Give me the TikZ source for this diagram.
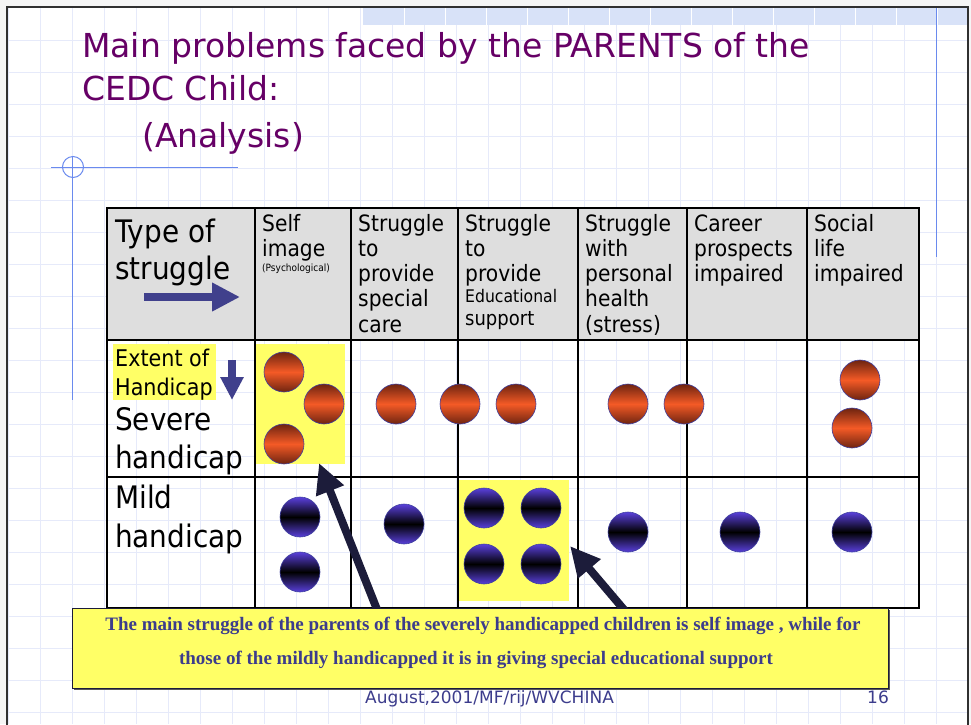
\documentclass[tikz,border=0pt]{standalone}
\usepackage{fontspec}
\setmainfont{DejaVu Sans}[FakeStretch=0.9]
\newfontfamily\widefont{DejaVu Sans}
\newfontfamily\notefont{Liberation Serif}
\usetikzlibrary{arrows.meta}
\definecolor{titlec}{HTML}{660066}
\definecolor{gridc}{HTML}{E6EAFA}
\definecolor{bannerc}{HTML}{D8E2F8}
\definecolor{decob}{HTML}{6A8AEE}
\definecolor{headc}{HTML}{DEDEDE}
\definecolor{hlc}{HTML}{FFFF66}
\definecolor{arrowb}{HTML}{40408C}
\definecolor{navy}{HTML}{1C1C3A}
\definecolor{notetext}{HTML}{3C3C8C}
\definecolor{orgdark}{HTML}{6E2410}
\definecolor{orgmid}{HTML}{F45A26}
\definecolor{bluetop}{HTML}{5A40DC}
\definecolor{ballline}{HTML}{4040A0}
\definecolor{pagec}{HTML}{F5F5F5}
\definecolor{framec}{HTML}{303030}
\begin{document}
\begin{tikzpicture}[x=1pt,y=-1pt,
  txt/.style={inner sep=0pt, anchor=base west},
  titlef/.style={txt, text=titlec, font=\widefont\fontsize{33}{36}\selectfont},
  hdr/.style={txt, font=\fontsize{22.5}{25}\selectfont},
  bigt/.style={txt, font=\fontsize{31}{36}\selectfont},
  tbl/.style={line width=1.4pt, black},
  oball/.style={circle, minimum size=40pt, inner sep=0pt, draw=ballline, line width=0.6pt,
     top color=orgdark, bottom color=orgdark, middle color=orgmid},
  bball/.style={circle, minimum size=40pt, inner sep=0pt, draw=ballline, line width=0.6pt,
     top color=bluetop, bottom color=bluetop, middle color=black},
  blockarrow/.style={arrowb, line width=8pt, -{Triangle[length=28pt,width=27pt]}},
  downarrow/.style={arrowb, line width=8pt, -{Triangle[length=23pt,width=22pt]}},
  pointer/.style={navy, line width=8pt, -{Triangle[length=30pt,width=28pt]}},
  notel/.style={inner sep=0pt, anchor=base, text=notetext, font=\notefont\bfseries\fontsize{19}{22}\selectfont},
  foot/.style={txt, text=notetext, font=\widefont\fontsize{17}{20}\selectfont}
]
\useasboundingbox (0,0) rectangle (971,724);
\clip (0,0) rectangle (971,724);
% page
\fill[pagec] (0,0) rectangle (971,724);
\fill[white] (7,7) rectangle (968,730);
% grid
\foreach \k in {0,...,29} \draw[gridc, line width=0.7pt] ({8.5+32*\k},7) -- ({8.5+32*\k},724);
\foreach \k in {1,...,22} \draw[gridc, line width=0.7pt] (7,{8+32*\k}) -- (968,{8+32*\k});
% banner
\fill[bannerc] (363,8) rectangle (967,25);
\foreach \k in {0,...,13} \draw[white, line width=1pt] ({404+41*\k},8) -- ({404+41*\k},25);
% frame
\draw[framec, line width=2pt] (7,740) -- (7,7) -- (968,7) -- (968,740);
% decorative lines
\draw[decob, line width=1pt] (936,8) -- (936,257);
\draw[decob, line width=1pt] (72.7,157) -- (72.7,400);
\draw[decob, line width=1pt] (51,167) -- (238,167);
\draw[decob, line width=1pt] (73,167) circle[radius=10.5];
% title
\node[titlef] (t1) at (82,57) {Main problems faced by the PARENTS of the};
\node[titlef] (t2) at (82,100) {CEDC Child:};
\node[titlef] (t3) at (142,147) {(Analysis)};
% table header background
\fill[headc] (107,208) rectangle (919,340);
% highlights
\fill[hlc] (256,344) rectangle (345,464);
\fill[hlc] (458,480) rectangle (569,601);
\fill[hlc] (113,344) rectangle (216,400);
% table lines
\draw[tbl] (107,208) rectangle (919,608);
\foreach \x in {255,351,458,578,687,807} \draw[tbl] (\x,208) -- (\x,608);
\draw[tbl] (107,340) -- (919,340);
\draw[tbl] (107,477) -- (919,477);
% header texts
\node[bigt] (ty1) at (115,242) {Type of};
\node[bigt] (ty2) at (115,279) {struggle};
\coordinate (ra1) at (144,297);
\coordinate (ra2) at (240,297);
\draw[blockarrow] (ra1) -- (ra2);
\node[hdr] (s1) at (262,231) {Self};
\node[hdr] (s2) at (262,256) {image};
\node[txt, font=\fontsize{10}{12}\selectfont] (s3) at (262,271) {(Psychological)};
\foreach \t [count=\i] in {Struggle,to,provide,special,care}
  \node[hdr] (c2l\i) at (358,{231+25.3*(\i-1)}) {\t};
\foreach \t [count=\i] in {Struggle,to,provide}
  \node[hdr] (c3l\i) at (465,{231+25.3*(\i-1)}) {\t};
\node[txt, font=\fontsize{17.4}{20}\selectfont] (c3l4) at (465,302) {Educational};
\node[txt, font=\fontsize{20}{22}\selectfont] (c3l5) at (465,325) {support};
\foreach \t [count=\i] in {Struggle,with,personal,health,(stress)}
  \node[hdr] (c4l\i) at (585,{231+25.3*(\i-1)}) {\t};
\foreach \t [count=\i] in {Career,prospects,impaired}
  \node[hdr] (c5l\i) at (694,{231+25.3*(\i-1)}) {\t};
\foreach \t [count=\i] in {Social,life,impaired}
  \node[hdr] (c6l\i) at (814,{231+25.3*(\i-1)}) {\t};
% row labels
\node[txt, font=\fontsize{23}{26}\selectfont] (e1) at (115,366) {Extent of};
\node[txt, font=\fontsize{23}{26}\selectfont] (e2) at (115,395) {Handicap};
\coordinate (da1) at (232,360);
\coordinate (da2) at (232,400);
\draw[downarrow] (da1) -- (da2);
\node[bigt] (sv1) at (115,430) {Severe};
\node[bigt] (sv2) at (115,468) {handicap};
\node[bigt] (md1) at (115,508) {Mild};
\node[bigt] (md2) at (115,547) {handicap};
% balls
\foreach \p [count=\i] in {(284,372),(324,404),(284,444),(396,404),(460,404),(516,404),(628,404),(684,404),(860,380),(852,428)}
  \node[oball] (ob\i) at \p {};
\foreach \p [count=\i] in {(300,517),(300,572),(404,524),(484,508),(541,508),(484,564),(541,564),(628,532),(740,532),(852,532)}
  \node[bball] (bb\i) at \p {};
% pointers
\coordinate (p1s) at (378,612);
\coordinate (p1t) at (319,463);
\coordinate (p2s) at (626,612);
\coordinate (p2t) at (570,546);
\draw[pointer] (p1s) -- (p1t);
\draw[pointer] (p2s) -- (p2t);
% note box
\fill[gray!70!black] (74,610) rectangle (890,690);
\fill[hlc] (72,608) rectangle (888,688);
\draw[navy, line width=0.8pt] (72,608) rectangle (888,688);
\node[notel] (n1) at (483,630) {The main struggle of the parents of the severely handicapped children is self image , while for};
\node[notel] (n2) at (476,664) {those of the mildly handicapped it is in giving special educational support};
% footer
\node[foot] (f1) at (365,703) {August,2001/MF/rij/WVCHINA};
\node[foot] (f2) at (867,703) {16};
\end{tikzpicture}
\end{document}
